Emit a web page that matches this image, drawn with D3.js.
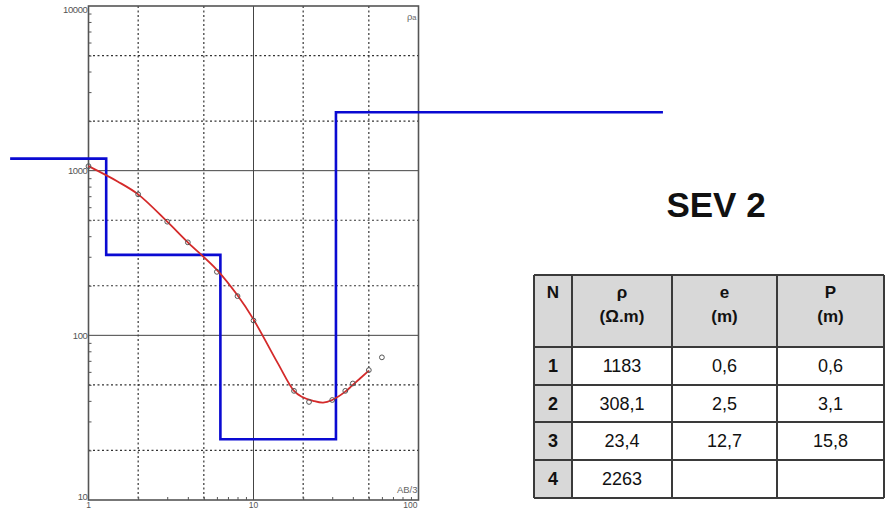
<!DOCTYPE html>
<html>
<head>
<meta charset="utf-8">
<script src="https://cdn.jsdelivr.net/npm/d3@7"></script>
<style>
  html, body { margin: 0; padding: 0; background: #fff; }
  svg { display: block; font-family: "Liberation Sans", Arial, sans-serif; }
</style>
</head>
<body>
<svg id="chart" width="885" height="508"></svg>
<script>
// Field sounding: half-spacing (AB/2) and apparent resistivity (ohm.m)
const fieldAB  = [1, 2, 3, 4, 6, 8, 10, 17.6, 21.7, 30, 36, 40, 50, 60];
const fieldRho = [1065, 718, 490, 367, 243, 173, 123, 46, 39.4, 40.5, 46, 51, 61.5, 73.5];

// Computed response of the layered model
const calcAB  = [1, 1.5, 2, 3, 4, 6, 8, 10, 14, 17.6, 19.6, 23, 26.4, 30, 36, 40, 50];
const calcRho = [1065, 860, 718, 490, 367, 250, 175, 125, 68, 46, 42.4, 40, 39, 40.5, 45.5, 50, 61];

// Layered model: resistivities, layer interfaces on the AB/2 axis, line extent
const modelRho = [1183, 308.1, 23.4, 2263];
const modelBreakAB = [1.28, 6.3, 31.6];
const modelExtentAB = [0.335, 3030];

// Table columns
const layerN = ["1", "2", "3", "4"];
const layerE = ["0,6", "2,5", "12,7", ""];
const layerP = ["0,6", "3,1", "15,8", ""];
const headTop = ["N", "ρ", "e", "P"];
const headBottom = ["", "(Ω.m)", "(m)", "(m)"];

// Axis ticks
const xLabelTicks = [1, 10, 100];
const yLabelTicks = [10, 100, 1000, 10000];
const xSolidGrid = [10];
const ySolidGrid = [100, 1000];
const xDotGrid = [2, 5, 20, 50];
const yDotGrid = [20, 50, 200, 500, 2000, 5000];

const svg = d3.select("#chart");

const x = d3.scaleLog().domain([1, 100]).range([88.5, 418.5]);
const y = d3.scaleLog().domain([10, 10000]).range([500, 6]);
const [x0, x1] = x.range();
const [yb, yt] = y.range();

const minorOf = dom => {
  const out = [];
  for (let p = Math.log10(dom[0]); p < Math.log10(dom[1]); p++) {
    for (let m = 2; m <= 9; m++) out.push(m * Math.pow(10, p));
  }
  return out;
};

// grid
const grid = svg.append("g");
grid.selectAll(".xd").data(xDotGrid).join("line")
  .attr("x1", d => x(d)).attr("x2", d => x(d)).attr("y1", yt).attr("y2", yb)
  .attr("stroke", "#333").attr("stroke-width", 1.2).attr("stroke-dasharray", "2,2.5");
grid.selectAll(".yd").data(yDotGrid).join("line")
  .attr("y1", d => y(d)).attr("y2", d => y(d)).attr("x1", x0).attr("x2", x1)
  .attr("stroke", "#333").attr("stroke-width", 1.2).attr("stroke-dasharray", "2,2.5");
grid.selectAll(".xs").data(xSolidGrid).join("line")
  .attr("x1", d => x(d)).attr("x2", d => x(d)).attr("y1", yt).attr("y2", yb)
  .attr("stroke", "#444").attr("stroke-width", 1);
grid.selectAll(".ys").data(ySolidGrid).join("line")
  .attr("y1", d => y(d)).attr("y2", d => y(d)).attr("x1", x0).attr("x2", x1)
  .attr("stroke", "#444").attr("stroke-width", 1);

// axes with inward minor ticks
const yAxis = d3.axisLeft(y).tickValues(minorOf(y.domain())).tickSize(-3).tickFormat("");
const xAxis = d3.axisBottom(x).tickValues(minorOf(x.domain())).tickSize(-3).tickFormat("");
const gy = svg.append("g").attr("transform", `translate(${x0},0)`).call(yAxis);
const gx = svg.append("g").attr("transform", `translate(0,${yb})`).call(xAxis);
[gx, gy].forEach(g => {
  g.select(".domain").remove();
  g.selectAll(".tick line").attr("stroke", "#555").attr("stroke-width", 1);
});

// frame
svg.append("rect").attr("x", x0).attr("y", yt).attr("width", x1 - x0).attr("height", yb - yt)
  .attr("fill", "none").attr("stroke", "#555").attr("stroke-width", 1.6);

// tick labels
svg.selectAll(".ylab").data(yLabelTicks).join("text")
  .attr("x", x0 - 1).attr("y", d => y(d))
  .attr("dy", d => d === 10000 ? "0.75em" : (d === 10 ? "-0.05em" : "0.35em"))
  .attr("text-anchor", "end").attr("font-size", 9.5).attr("fill", "#555")
  .attr("letter-spacing", -0.4)
  .text(d => d);
svg.selectAll(".xlab").data(xLabelTicks).join("text")
  .attr("x", d => d === 100 ? x(d) - 1 : x(d)).attr("y", 507.5)
  .attr("text-anchor", d => d === 100 ? "end" : "middle")
  .attr("font-size", 8.5).attr("fill", "#555")
  .text(d => d);

// axis names
const rhoLab = svg.append("text").attr("x", x1 - 2).attr("y", 20)
  .attr("text-anchor", "end").attr("font-size", 9.5).attr("fill", "#666");
rhoLab.append("tspan").text("ρ");
rhoLab.append("tspan").attr("font-size", 7.5).text("a");
svg.append("text").attr("x", x1 - 1).attr("y", 493)
  .attr("text-anchor", "end").attr("font-size", 9.5).attr("fill", "#666")
  .text("AB/3");

// layered model (blue step line, drawn beyond the frame)
const modelPts = modelRho.map((r, i) => [i === 0 ? modelExtentAB[0] : modelBreakAB[i - 1], r]);
modelPts.push([modelExtentAB[1], modelRho[modelRho.length - 1]]);
svg.append("path").datum(modelPts)
  .attr("d", d3.line().x(d => x(d[0])).y(d => y(d[1])).curve(d3.curveStepAfter))
  .attr("fill", "none").attr("stroke", "#0a0ad2").attr("stroke-width", 2.6);

// computed curve
svg.append("path").datum(calcAB.map((a, i) => [a, calcRho[i]]))
  .attr("d", d3.line().x(d => x(d[0])).y(d => y(d[1])).curve(d3.curveCatmullRom))
  .attr("fill", "none").attr("stroke", "#d42a2a").attr("stroke-width", 1.8);

// field points
svg.selectAll(".pt").data(fieldAB.map((a, i) => [a, fieldRho[i]])).join("circle")
  .attr("cx", d => x(d[0])).attr("cy", d => y(d[1])).attr("r", 2.4)
  .attr("fill", "none").attr("stroke", "#555").attr("stroke-width", 1);

// title
svg.append("text").attr("x", 716).attr("y", 217).attr("text-anchor", "middle")
  .attr("font-size", 35).attr("font-weight", "bold").attr("fill", "#111")
  .text("SEV 2");

// result table
const colX = [534, 572, 672, 777, 884];
const rowY = [275, 347, 385, 422, 460, 498];
const layerRhoTxt = modelRho.map(v => String(v).replace(".", ","));
const bodyCols = [layerN, layerRhoTxt, layerE, layerP];
const tbl = svg.append("g");
const cells = [];
for (let r = 0; r < 5; r++) {
  for (let c = 0; c < 4; c++) {
    cells.push({ r, c, gray: r === 0 || c === 0 });
  }
}
tbl.selectAll("rect.cell").data(cells).join("rect")
  .attr("x", d => colX[d.c]).attr("y", d => rowY[d.r])
  .attr("width", d => colX[d.c + 1] - colX[d.c]).attr("height", d => rowY[d.r + 1] - rowY[d.r])
  .attr("fill", d => d.gray ? "#d8d8d8" : "#fff");
tbl.selectAll("line.v").data(colX).join("line")
  .attr("x1", d => d).attr("x2", d => d).attr("y1", rowY[0]).attr("y2", rowY[5])
  .attr("stroke", "#3a3a3a").attr("stroke-width", 2);
tbl.selectAll("line.h").data(rowY).join("line")
  .attr("y1", d => d).attr("y2", d => d).attr("x1", colX[0]).attr("x2", colX[4])
  .attr("stroke", "#3a3a3a").attr("stroke-width", 2);

const mid = c => (colX[c] + colX[c + 1]) / 2;
tbl.selectAll("text.h1").data(headTop).join("text")
  .attr("x", (d, i) => mid(i)).attr("y", 298).attr("text-anchor", "middle")
  .attr("font-size", 17).attr("font-weight", "bold").attr("fill", "#111").text(d => d);
tbl.selectAll("text.h2").data(headBottom).join("text")
  .attr("x", (d, i) => mid(i)).attr("y", 322).attr("text-anchor", "middle")
  .attr("font-size", 17).attr("font-weight", "bold").attr("fill", "#111").text(d => d);

bodyCols.forEach((col, c) => {
  tbl.selectAll(`text.c${c}`).data(col).join("text")
    .attr("x", mid(c)).attr("y", (d, r) => (rowY[r + 1] + rowY[r + 2]) / 2)
    .attr("dy", "0.36em").attr("text-anchor", "middle")
    .attr("font-size", 18).attr("font-weight", c === 0 ? "bold" : "normal")
    .attr("fill", "#111").text(d => d);
});
</script>
</body>
</html>
